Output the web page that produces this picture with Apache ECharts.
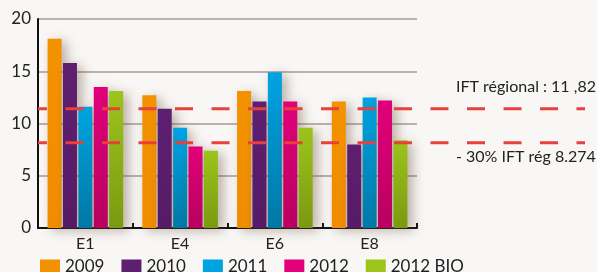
<!DOCTYPE html>
<html>
<head>
<meta charset="utf-8">
<style>
  html, body { margin: 0; padding: 0; background: #f8f7f5; }
  #chart { width: 597px; height: 272px; }
</style>
<script src="https://cdn.jsdelivr.net/npm/echarts@6/dist/echarts.min.js"></script>
</head>
<body>
<div id="chart"></div>
<script>
const categories = ["E1", "E4", "E6", "E8"];
const seriesNames = ["2009", "2010", "2011", "2012", "2012 BIO"];
const v2009 = [18.1, 12.7, 13.1, 12.1];
const v2010 = [15.8, 11.4, 12.1, 8.0];
const v2011 = [11.6, 9.6, 14.9, 12.5];
const v2012 = [13.5, 7.8, 12.1, 12.2];
const vBio = [13.1, 7.4, 9.6, 8.4];
const yTicks = [0, 5, 10, 15, 20];
const thresholds = [11.4, 8.15];
const thresholdLabels = ["IFT régional : 11 ,82", "- 30% IFT rég 8.274"];

const FONT = "Lato, 'Open Sans', sans-serif";
const colors = [
  ["#f39200", "#ef8c00"],
  ["#5e1f70", "#561a66"],
  ["#00a3e2", "#0078a6"],
  ["#e2007a", "#b8005f"],
  ["#9cc41a", "#7a9a10"]
];
const values = [v2009, v2010, v2011, v2012, vBio];

const chart = echarts.init(document.getElementById("chart"), null, { renderer: "canvas" });

const barSeries = seriesNames.map((name, i) => ({
  name,
  type: "bar",
  xAxisIndex: 0,
  yAxisIndex: 0,
  data: values[i],
  barWidth: 14,
  barGap: "10%",
  z: 2,
  itemStyle: {
    color: new echarts.graphic.LinearGradient(0, 0, 0, 1, [
      { offset: 0, color: colors[i][0] },
      { offset: 1, color: colors[i][1] }
    ]),
    shadowBlur: 12,
    shadowColor: "rgba(110,80,60,0.45)",
    shadowOffsetX: 5,
    shadowOffsetY: 3
  }
}));

const lineSeries = thresholds.map((v, i) => ({
  name: "seuil" + i,
  type: "line",
  xAxisIndex: 1,
  yAxisIndex: 1,
  data: [[0, v], [1, v]],
  showSymbol: false,
  silent: true,
  z: 5,
  lineStyle: { color: "#e8403a", width: 3, type: [18, 18.5], dashOffset: 9 }
}));

chart.setOption({
  animation: false,
  backgroundColor: "#f8f7f5",
  textStyle: { fontFamily: FONT },
  grid: [
    { left: 38, right: 180, top: 19, bottom: 44 },
    { left: 38, right: 12, top: 19, bottom: 44 }
  ],
  xAxis: [
    {
      type: "category",
      data: categories,
      gridIndex: 0,
      axisLine: { lineStyle: { color: "#111", width: 2 } },
      axisTick: { show: true, inside: true, length: 5, lineStyle: { color: "#111", width: 2 } },
      axisLabel: { color: "#222", fontSize: 16, margin: 8, fontFamily: FONT },
      splitLine: { show: false }
    },
    { type: "value", gridIndex: 1, min: 0, max: 1, show: false }
  ],
  yAxis: [
    {
      type: "value",
      gridIndex: 0,
      min: yTicks[0],
      max: yTicks[yTicks.length - 1],
      interval: 5,
      axisLine: { show: true, lineStyle: { color: "#111", width: 2 } },
      axisTick: { show: false },
      axisLabel: { color: "#222", fontSize: 17, margin: 7, fontFamily: FONT },
      splitLine: { lineStyle: { color: "#a89890", width: 1.5 } }
    },
    { type: "value", gridIndex: 1, min: 0, max: 20, show: false }
  ],
  legend: {
    left: 35,
    top: 253,
    itemWidth: 20,
    itemHeight: 14,
    itemGap: 17,
    icon: "rect",
    textStyle: { color: "#222", fontSize: 17, fontFamily: FONT },
    data: seriesNames.map((name, i) => ({ name, itemStyle: { color: colors[i][0] } }))
  },
  graphic: thresholdLabels.map((t, i) => ({
    type: "text",
    left: 456,
    top: i === 0 ? 79 : 149,
    style: { text: t, fill: "#222", font: "16px " + FONT }
  })),
  series: [...barSeries, ...lineSeries]
});
</script>
</body>
</html>
